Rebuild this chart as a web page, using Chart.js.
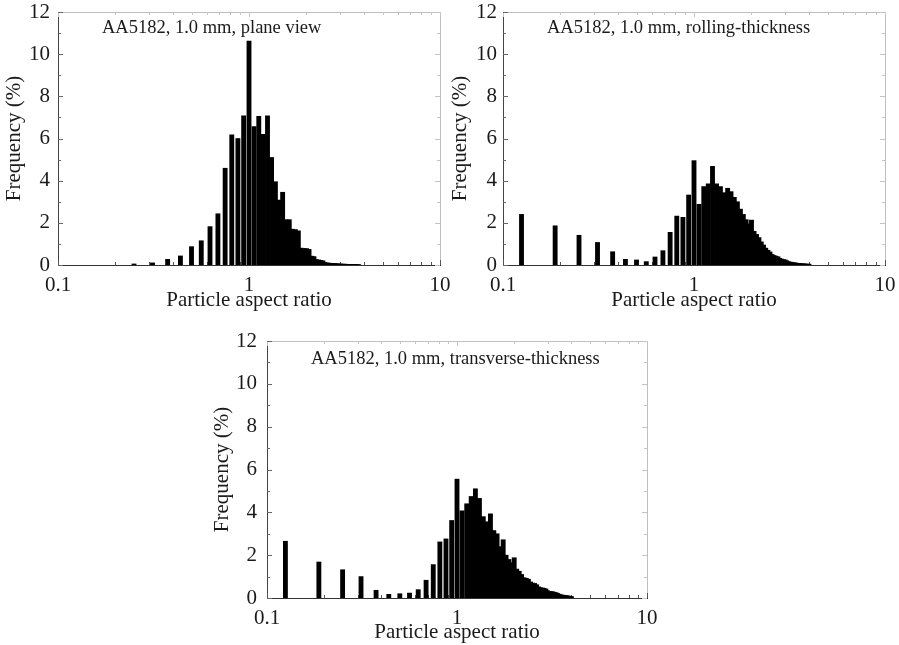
<!DOCTYPE html>
<html><head><meta charset="utf-8">
<script src="https://cdn.jsdelivr.net/npm/chart.js@4.4.0/dist/chart.umd.min.js"></script>
<style>
html,body{margin:0;padding:0;background:#fff;}
#wrap{position:relative;width:899px;height:645px;overflow:hidden;background:#fff;}
canvas{position:absolute;}
</style></head><body>
<div id="wrap">
<canvas id="c1" width="450" height="315" style="left:0px;top:0px"></canvas>
<canvas id="c2" width="454" height="315" style="left:445px;top:0px"></canvas>
<canvas id="c3" width="448" height="320" style="left:209px;top:325px"></canvas>
</div>
<script>
// ---- data ----
const binCenters = [
  0.125, 0.1875, 0.25, 0.3125, 0.375, 0.4375, 0.5, 0.5625, 0.625, 0.6875,
  0.75, 0.8125, 0.875, 0.9375, 1.0, 1.0625, 1.125, 1.1875, 1.25, 1.3125,
  1.375, 1.4375, 1.5, 1.5625, 1.625, 1.6875, 1.75, 1.8125, 1.875, 1.9375,
  2.0, 2.0625, 2.125, 2.1875, 2.25, 2.3125, 2.375, 2.4375, 2.5, 2.5625,
  2.625, 2.6875, 2.75, 2.8125, 2.875, 2.9375, 3.0, 3.0625, 3.125, 3.1875,
  3.25, 3.3125, 3.375, 3.4375, 3.5, 3.5625, 3.625, 3.6875, 3.75, 3.8125,
  3.875, 3.9375, 4.0
];
const planeView = [
  0, 0, 0.05, 0.1, 0.27, 0.43, 0.87, 1.15, 1.82, 2.43,
  4.59, 6.17, 6.0, 7.08, 10.62, 6.56, 7.05, 6.2, 7.08, 5.1,
  3.95, 3.08, 3.45, 2.15, 2.15, 1.7, 1.68, 1.62, 0.8, 0.78,
  0.78, 0.74, 0.42, 0.4, 0.26, 0.24, 0.22, 0.2, 0.12, 0.1,
  0.09, 0.08, 0.08, 0.07, 0.06, 0.05, 0.05, 0.04, 0.04, 0.04,
  0.03, 0.03, 0.03, 0.03, 0.03, 0.02, 0.02, 0.02, 0.02, 0,
  0, 0, 0
];
const rollingThickness = [
  2.4, 1.86, 1.41, 1.07, 0.63, 0.27, 0.24, 0.16, 0.38, 0.68,
  1.55, 2.32, 2.26, 3.32, 4.95, 2.88, 3.72, 3.85, 4.68, 3.85,
  3.72, 3.43, 3.64, 3.48, 3.21, 3.0, 2.65, 2.4, 2.15, 1.95,
  2.13, 1.6, 1.45, 1.3, 1.1, 0.95, 0.8, 0.7, 0.62, 0.5,
  0.45, 0.42, 0.39, 0.32, 0.28, 0.26, 0.24, 0.2, 0.16, 0.14,
  0.12, 0.11, 0.1, 0.09, 0.08, 0.07, 0.06, 0.06, 0.05, 0.05,
  0.04, 0.04, 0.04
];
const transverseThickness = [
  2.65, 1.68, 1.32, 1.0, 0.36, 0.17, 0.2, 0.23, 0.39, 0.83,
  1.56, 2.62, 2.76, 3.62, 5.55, 4.07, 4.4, 4.74, 5.1, 4.65,
  3.8, 3.56, 3.93, 3.15, 3.0, 2.4, 2.72, 2.0, 1.8, 1.65,
  1.88, 1.35, 1.25, 1.1, 0.95, 0.92, 0.88, 0.75, 0.7, 0.68,
  0.62, 0.52, 0.48, 0.47, 0.45, 0.42, 0.34, 0.31, 0.3, 0.29,
  0.27, 0.25, 0.22, 0.18, 0.15, 0.14, 0.13, 0.12, 0.11, 0.1,
  0.09, 0.08, 0.07
];
const panelTitles = [
  'AA5182, 1.0 mm, plane view',
  'AA5182, 1.0 mm, rolling-thickness',
  'AA5182, 1.0 mm, transverse-thickness'
];
const xTickValues = [0.1, 1, 10];
const xTickLabels = ['0.1', '1', '10'];
const xMinorTicks = [0.2, 0.3, 0.4, 0.5, 0.6, 0.7, 0.8, 0.9, 2, 3, 4, 5, 6, 7, 8, 9];
const yTickValues = [0, 2, 4, 6, 8, 10, 12];
const yMinorTicks = [1, 3, 5, 7, 9, 11];
const xAxisTitle = 'Particle aspect ratio';
const yAxisTitle = 'Frequency (%)';

// ---- drawing ----
const FONT = '"Liberation Serif", "Times New Roman", serif';
const TXT = '#1a1a1a';

const framePlugin = {
  id: 'frame',
  beforeDatasetsDraw(chart) {
    const {ctx, chartArea: a, scales: {x, y}} = chart;
    ctx.save();
    ctx.lineWidth = 1;
    ctx.strokeStyle = '#bfbfbf';
    ctx.beginPath();
    ctx.moveTo(a.left, Math.round(a.top) + 0.5);
    ctx.lineTo(Math.round(a.right) + 0.5, Math.round(a.top) + 0.5);
    ctx.lineTo(Math.round(a.right) + 0.5, a.bottom);
    ctx.stroke();
    const tick = (px, y0, y1, col) => { ctx.strokeStyle = col; ctx.beginPath(); ctx.moveTo(Math.round(px) + 0.5, y0); ctx.lineTo(Math.round(px) + 0.5, y1); ctx.stroke(); };
    const htick = (py, x0, x1, col) => { ctx.strokeStyle = col; ctx.beginPath(); ctx.moveTo(x0, Math.round(py) + 0.5); ctx.lineTo(x1, Math.round(py) + 0.5); ctx.stroke(); };
    xMinorTicks.forEach(v => {
      const px = x.getPixelForValue(v);
      tick(px, a.bottom, a.bottom - 3, '#555');
      tick(px, a.top, a.top + 3, '#c4c4c4');
    });
    xTickValues.forEach(v => {
      const px = x.getPixelForValue(v);
      tick(px, a.bottom, a.bottom - 5, '#555');
      tick(px, a.top, a.top + 5, '#c4c4c4');
    });
    yMinorTicks.forEach(v => {
      const py = y.getPixelForValue(v);
      htick(py, a.left, a.left + 3, '#666');
      htick(py, a.right, a.right - 3, '#c4c4c4');
    });
    yTickValues.forEach(v => {
      const py = y.getPixelForValue(v);
      htick(py, a.left, a.left + 5, '#666');
      htick(py, a.right, a.right - 5, '#c4c4c4');
    });
    ctx.restore();
  },
  afterDraw(chart, args, opts) {
    const {ctx, chartArea: a} = chart;
    ctx.save();
    ctx.font = '18.5px ' + FONT;
    ctx.fillStyle = TXT;
    ctx.textBaseline = 'alphabetic';
    ctx.textAlign = 'left';
    ctx.fillText(opts.text, a.left + opts.dx, a.top + opts.dy);
    ctx.restore();
  }
};

function makeChart(id, values, title, cfg) {
  const pts = [];
  binCenters.forEach((b, i) => { if (values[i] > 0) pts.push({x: b, y: values[i]}); });
  return new Chart(document.getElementById(id), {
    type: 'bar',
    data: { datasets: [{
      data: pts, backgroundColor: '#000', borderWidth: 0, barThickness: 4.2
    }]},
    options: {
      responsive: false, animation: false, events: [],
      layout: { padding: { top: cfg.padTop, right: cfg.padRight, left: 0, bottom: 0 } },
      plugins: { legend: {display: false}, tooltip: {enabled: false},
        frame: { text: title, dx: 44, dy: cfg.titleDy } },
      scales: {
        x: {
          type: 'logarithmic', min: 0.1, max: 10, offset: false,
          afterBuildTicks: s => { s.ticks = xTickValues.map(v => ({value: v})); },
          afterFit: s => { s.height = cfg.xHeight; s.paddingLeft = 0; s.paddingRight = 0; },
          ticks: { autoSkip: false, maxRotation: 0, minRotation: 0, padding: 8, color: TXT,
            font: {family: FONT, size: 21},
            callback: v => xTickLabels[xTickValues.indexOf(v)] },
          grid: { display: false, drawTicks: false },
          border: { display: true, color: '#333', width: 1 },
          title: { display: true, text: xAxisTitle, color: TXT, font: {family: FONT, size: 21},
            padding: {top: 0, bottom: cfg.xTitlePad} }
        },
        y: {
          min: 0, max: 12,
          afterBuildTicks: s => { s.ticks = yTickValues.map(v => ({value: v})); },
          afterFit: s => { s.width = 58; s.paddingTop = 0; s.paddingBottom = 0; },
          ticks: { padding: cfg.yTickPad, color: TXT, font: {family: FONT, size: 21} },
          grid: { display: false, drawTicks: false },
          border: { display: true, color: '#444', width: 1 },
          title: { display: true, text: yAxisTitle, color: TXT, font: {family: FONT, size: 21},
            padding: {top: cfg.yTitlePad, bottom: 0} }
        }
      }
    },
    plugins: [framePlugin]
  });
}

makeChart('c1', planeView, panelTitles[0],
  {padTop: 12, padRight: 10, xHeight: 50, xTitlePad: 2, yTickPad: 8, yTitlePad: 2, titleDy: 21});
makeChart('c2', rollingThickness, panelTitles[1],
  {padTop: 12, padRight: 14, xHeight: 50, xTitlePad: 2, yTickPad: 6, yTitlePad: 3, titleDy: 21});
makeChart('c3', transverseThickness, panelTitles[2],
  {padTop: 16, padRight: 10, xHeight: 47, xTitlePad: 0, yTickPad: 10, yTitlePad: 1, titleDy: 23});
</script>
</body></html>
